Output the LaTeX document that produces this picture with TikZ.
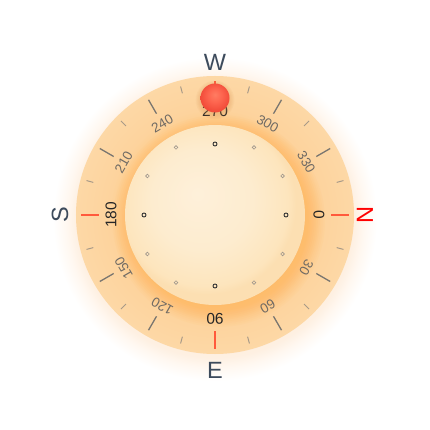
\documentclass[tikz,border=0pt]{standalone}
\usepackage{fontspec}
\setmainfont{Liberation Sans}
\definecolor{ringin}{HTML}{FECC8A}
\definecolor{ringmid}{HTML}{FDD39D}
\definecolor{ringout}{HTML}{FDD8A6}
\definecolor{glowa}{HTML}{FEF0E2}
\definecolor{glowb}{HTML}{FFF8F1}
\definecolor{shadowc}{HTML}{FFAA40}
\definecolor{dischi}{HTML}{FEF0DA}
\definecolor{discmid}{HTML}{FDECCF}
\definecolor{disclo}{HTML}{FDE5BD}
\definecolor{discedge}{HTML}{FCDFB2}
\definecolor{ballhi}{HTML}{FF7C62}
\definecolor{ballmid}{HTML}{FD654F}
\definecolor{balledge}{HTML}{F24C3A}
\definecolor{ballsh}{HTML}{D9904F}
\definecolor{tickc}{HTML}{7A7670}
\definecolor{tickl}{HTML}{A89A88}
\definecolor{cardred}{HTML}{FF5A3C}
\definecolor{numdark}{HTML}{262626}
\definecolor{numgrey}{HTML}{6F6A64}
\definecolor{letc}{HTML}{3D4B5C}
\definecolor{dotdark}{HTML}{333333}
\definecolor{dotgrey}{HTML}{A0978C}
\pgfdeclareradialshading{glowshade}{\pgfpoint{0bp}{0bp}}{color(0bp)=(ringout); color(21.4bp)=(glowa); color(23bp)=(glowb); color(25bp)=(white); color(50bp)=(white)}
\pgfdeclareradialshading{ringshade}{\pgfpoint{0bp}{0bp}}{color(0bp)=(ringin); color(16.2bp)=(ringin); color(19bp)=(ringmid); color(25bp)=(ringout); color(50bp)=(ringout)}
\pgfdeclareradialshading{discshade}{\pgfpoint{-5bp}{6bp}}{color(0bp)=(dischi); color(14bp)=(discmid); color(23bp)=(disclo); color(25bp)=(discedge); color(50bp)=(discedge)}
\pgfdeclareradialshading{ballshade}{\pgfpoint{0bp}{6bp}}{color(0bp)=(ballhi); color(12bp)=(ballmid); color(25bp)=(balledge); color(50bp)=(balledge)}
\begin{document}
\begin{tikzpicture}[x=1pt,y=1pt,
  majtick/.style={draw=tickc, line width=1.3pt},
  mintick/.style={draw=tickl, line width=1pt},
  cardtick/.style={draw=cardred, line width=1.6pt},
  majnum/.style={font=\fontsize{15.5}{17}\selectfont, text=numdark, inner sep=0pt},
  minnum/.style={font=\fontsize{13.5}{15}\selectfont, text=numgrey, inner sep=0pt},
  cardlet/.style={font=\fontsize{23.5}{26}\selectfont, text=letc, inner sep=0pt},
  majdot/.style={draw=dotdark, line width=0.9pt},
  mindot/.style={draw=dotgrey, line width=0.7pt}]
\useasboundingbox (-215pt,-215pt) rectangle (215pt,215pt);
\fill[white] (-215pt,-215pt) rectangle (215pt,215pt);
\coordinate (c) at (0,0);
% glow and ring
\shade[shading=glowshade] (0,-4pt) circle (162pt);
\shade[shading=ringshade] (c) circle (139pt);
% shadow of inner disc on ring
\foreach \i in {1,...,10}
  \fill[shadowc, opacity=0.045] (4pt,-6pt) circle ({88pt+\i*1.8pt});
% inner disc
\shade[shading=discshade] (c) circle (90pt);
% ticks
\foreach \t in {30,60,120,150,210,240,300,330}
  \draw[majtick] (-\t:117pt) -- (-\t:133pt);
\foreach \t in {15,45,...,345}
  \draw[mintick] (-\t:126pt) -- (-\t:133pt);
\foreach \t in {0,90,180,270}
  \draw[cardtick] (-\t:116pt) -- (-\t:134pt);
% degree labels
\foreach \t in {30,60,120,150,210,240,300,330}
  \node[minnum, rotate=-\t-90] (n\t) at (-\t:105.5pt) {\t};
\foreach \t in {0,90,180,270}
  \node[majnum, rotate=-\t-90] (n\t) at (-\t:104pt) {\t};
% inner dots
\foreach \t in {0,90,180,270}
  \draw[majdot] (-\t:71pt) circle (2pt);
\foreach \t in {30,60,120,150,210,240,300,330}
  \draw[mindot] (-\t:78pt) circle (1.8pt);
% cardinal letters
\node[cardlet] (W) at (90:153pt) {W};
\node[cardlet] (E) at (-90:155pt) {E};
\node[cardlet, rotate=90] (S) at (180:155pt) {S};
\node[cardlet, rotate=-90, text=red] (N) at (0:150pt) {N};
% ball
\foreach \i in {1,...,6}
  \fill[ballsh, opacity=0.06] (0,115pt) circle ({14pt+\i*0.9pt});
\shade[shading=ballshade] (0,117pt) circle (14.5pt);
\end{tikzpicture}
\end{document}
